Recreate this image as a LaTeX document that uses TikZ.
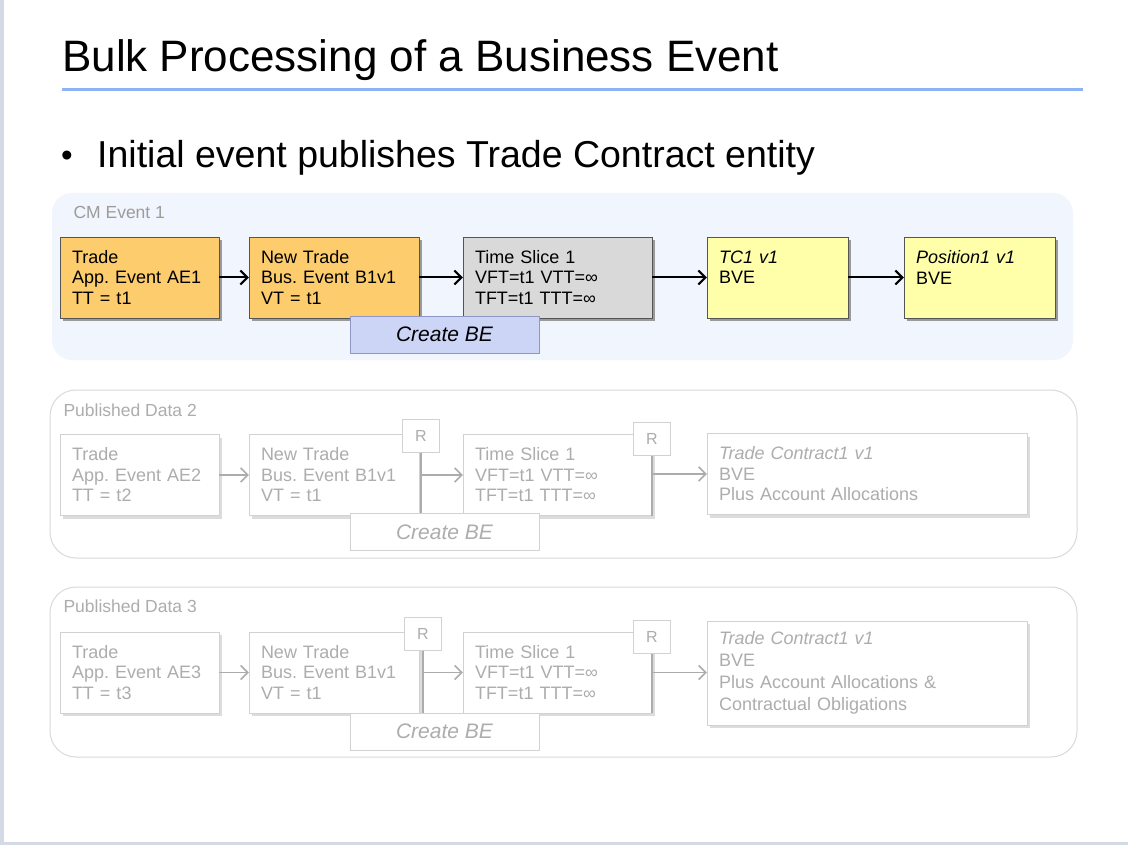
\documentclass[tikz,border=0pt]{standalone}
\usepackage{fontspec}
\setmainfont{Liberation Sans}
\usetikzlibrary{arrows.meta, positioning, shadows}
\definecolor{slidestrip}{HTML}{D3DAE5}
\definecolor{rulecol}{HTML}{8DB4F2}
\definecolor{panelfill}{HTML}{F1F5FD}
\definecolor{panelline}{HTML}{DADADA}
\definecolor{evorange}{HTML}{FDCC6C}
\definecolor{slicegray}{HTML}{D9D9D9}
\definecolor{bveyellow}{HTML}{FFFFAA}
\definecolor{createblue}{HTML}{CDD5F7}
\definecolor{createline}{HTML}{8F98C4}
\definecolor{boxline}{HTML}{555555}
\definecolor{shadowgray}{HTML}{9A9A9A}
\definecolor{labelgray}{HTML}{9C9C9C}
\definecolor{fadetext}{HTML}{ADADAD}
\definecolor{fadeline}{HTML}{D2D2D2}
\definecolor{fadeshadow}{HTML}{DCDCDC}
\definecolor{fadearrow}{HTML}{ACACAC}
\frenchspacing

\begin{document}
\begin{tikzpicture}[x=1pt, y=-1pt,
  box/.style={draw=boxline, minimum height=81pt, inner xsep=12pt, inner ysep=2pt, align=left,
    font=\fontsize{18pt}{20.5pt}\selectfont,
    drop shadow={shadow xshift=3pt, shadow yshift=-3pt, fill=shadowgray, opacity=1}},
  fadebox/.style={box, draw=fadeline, fill=white, text=fadetext,
    drop shadow={shadow xshift=3pt, shadow yshift=-3pt, fill=fadeshadow, opacity=1}},
  cbox/.style={draw=createline, fill=createblue, minimum width=189pt, minimum height=37pt,
    font=\fontsize{21pt}{24pt}\selectfont\itshape},
  fadecbox/.style={cbox, draw=fadeline, fill=white, text=fadetext},
  rbox/.style={draw=fadeline, fill=white, text=fadetext, minimum width=37pt, minimum height=33pt,
    inner sep=0pt, font=\fontsize{16pt}{18pt}\selectfont},
  panel/.style={rounded corners=26pt, draw=panelline, fill=white, line width=1pt},
  plabel/.style={anchor=west, text=labelgray, font=\fontsize{17.5pt}{20pt}\selectfont},
  arr/.style={-{Straight Barb[length=7pt, width=14pt]}, line width=2pt},
  farr/.style={-{Straight Barb[length=7pt, width=14pt]}, draw=fadearrow, line width=1.6pt},
  rline/.style={draw=fadearrow, line width=2pt},
]
  \useasboundingbox (0,0) rectangle (1128,845);
  \fill[white] (0,0) rectangle (1128,845);
  \fill[slidestrip] (0,0) rectangle (4,845);
  \fill[slidestrip] (0,842) rectangle (1128,845);

  % heading
  \node[anchor=base west, inner sep=0pt, font=\fontsize{44pt}{50pt}\selectfont] (title) at (62,72) {Bulk Processing of a Business Event};
  \draw[rulecol, line width=3pt] (62,90) -- (1083,90);
  \node[anchor=base west, inner sep=0pt, font=\fontsize{33pt}{38pt}\selectfont] (bul) at (61,167) {•};
  \node[anchor=base west, inner sep=0pt, font=\fontsize{37.5pt}{44pt}\selectfont] (point) at (97,168) {Initial event publishes Trade Contract entity};

  % CM Event 1
  \fill[panelfill, rounded corners=20pt] (52,193) rectangle (1073,360);
  \node[plabel] (lab1) at (70,212) {CM Event 1};
  \node[box, fill=evorange, text width=135pt] (ae1) at (139.5,277.5) {Trade\\App. Event AE1\\TT = t1};
  \node[box, fill=evorange, text width=146pt] (be1) at (334,277.5) {New Trade\\Bus. Event B1v1\\VT = t1};
  \node[box, fill=slicegray, text width=165pt] (ts1) at (557.5,277.5) {Time Slice 1\\VFT=t1 VTT=∞\\TFT=t1 TTT=∞};
  \node[box, fill=bveyellow, text width=117pt] (tc1) at (777.5,277.5) {\textit{TC1 v1}\\BVE\\\mbox{}};
  \node[box, fill=bveyellow, text width=127pt] (pos1) at (979.5,277.5) {\textit{Position1 v1}\\BVE\\\mbox{}};
  \node[cbox] (cbe1) at (444.5,334.5) {Create BE};
  \draw[arr] (ae1) -- (be1);
  \draw[arr] (be1) -- (ts1);
  \draw[arr] (ts1) -- (tc1);
  \draw[arr] (tc1) -- (pos1);

  % Published Data 2
  \draw[panel] (50,390) rectangle (1077,558);
  \node[plabel, text=fadetext] (lab2) at (60,410) {Published Data 2};
  \node[fadebox, text width=135pt] (ae2) at (139.5,475) {Trade\\App. Event AE2\\TT = t2};
  \node[fadebox, text width=146pt] (be2) at (334,475) {New Trade\\Bus. Event B1v1\\VT = t1};
  \node[fadebox, text width=165pt] (ts2) at (557.5,475) {Time Slice 1\\VFT=t1 VTT=∞\\TFT=t1 TTT=∞};
  \node[fadebox, text width=296pt] (tc2) at (867,474) {\textit{Trade Contract1 v1}\\BVE\\Plus Account Allocations};
  \node[fadecbox] (cbe2) at (444.5,532) {Create BE};
  \node[rbox] (r2a) at (421,436) {R};
  \node[rbox] (r2b) at (652,439) {R};
  \draw[farr] (ae2) -- (be2);
  \draw[rline] (r2a.south) -- (r2a.south |- cbe2.north);
  \draw[farr] (r2a.south |- ts2.west) -- (ts2.west);
  \draw[rline] (r2b.south) -- (r2b.south |- ts2.south);
  \draw[farr] (r2b.south |- tc2.west) -- (tc2.west);

  % Published Data 3
  \draw[panel] (50,587) rectangle (1077,757);
  \node[plabel, text=fadetext] (lab3) at (60,606) {Published Data 3};
  \node[fadebox, text width=135pt] (ae3) at (139.5,672.5) {Trade\\App. Event AE3\\TT = t3};
  \node[fadebox, text width=146pt] (be3) at (334,672.5) {New Trade\\Bus. Event B1v1\\VT = t1};
  \node[fadebox, text width=165pt] (ts3) at (557.5,672.5) {Time Slice 1\\VFT=t1 VTT=∞\\TFT=t1 TTT=∞};
  \node[fadebox, text width=296pt, minimum height=104pt, font=\fontsize{18pt}{22pt}\selectfont] (tc3) at (867,673) {\textit{Trade Contract1 v1}\\BVE\\Plus Account Allocations \&\\Contractual Obligations};
  \node[fadecbox] (cbe3) at (444.5,731.5) {Create BE};
  \node[rbox] (r3a) at (423,634) {R};
  \node[rbox] (r3b) at (652,637) {R};
  \draw[farr] (ae3) -- (be3);
  \draw[rline] (r3a.south) -- (r3a.south |- cbe3.north);
  \draw[farr] (r3a.south |- ts3.west) -- (ts3.west);
  \draw[rline] (r3b.south) -- (r3b.south |- ts3.south);
  \draw[farr] (r3b.south |- ae3.east) -- (tc3.west |- ae3.east);
\end{tikzpicture}
\end{document}
